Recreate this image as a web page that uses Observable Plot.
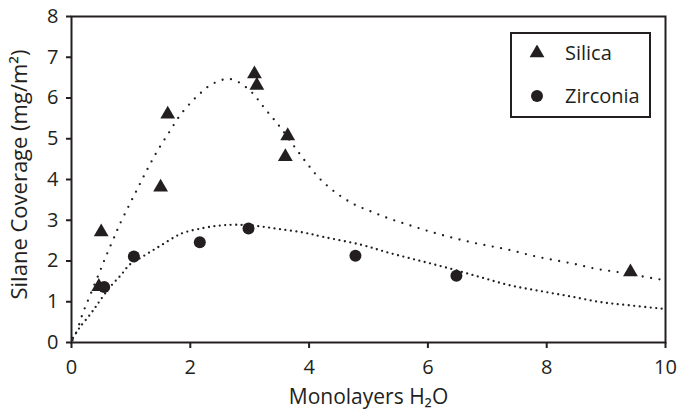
<!DOCTYPE html>
<html>
<head>
<meta charset="utf-8">
<script src="https://cdn.jsdelivr.net/npm/d3@7"></script>
<script src="https://cdn.jsdelivr.net/npm/@observablehq/plot@0.6"></script>
<style>
  html, body { margin: 0; padding: 0; background: #fff; }
  #wrap { position: relative; width: 679px; height: 410px; font-family: "Open Sans", sans-serif; color: #231f20; }
  #legend { position: absolute; left: 510px; top: 32px; width: 137px; height: 82px; border: 2px solid #231f20; background: #fff; }
  .item { position: absolute; left: 0; display: flex; align-items: center; font-size: 20px; }
  .item svg { margin-left: 17px; margin-right: 20px; }
</style>
</head>
<body>
<div id="wrap"></div>
<script>
// Tick labels
const xTicks = [0, 2, 4, 6, 8, 10];
const yTicks = [0, 1, 2, 3, 4, 5, 6, 7, 8];
const xLabel = "Monolayers H₂O";
const yLabel = "Silane Coverage (mg/m²)";
const seriesNames = ["Silica", "Zirconia"];

// Measured points (x = monolayers H2O, y = coverage)
const silicaX = [0.46, 0.50, 1.50, 1.62, 3.08, 3.12, 3.64, 3.60, 9.41];
const silicaY = [1.37, 2.71, 3.81, 5.60, 6.59, 6.31, 5.07, 4.56, 1.73];
const zirconiaX = [0.55, 1.05, 2.16, 2.98, 4.78, 6.48];
const zirconiaY = [1.36, 2.11, 2.46, 2.80, 2.13, 1.64];

// Fitted trend curves
const silicaFitX = [0.02, 0.064, 0.14, 0.19, 0.26, 0.46, 0.59, 0.73, 0.80, 0.96, 1.12, 1.28, 1.45, 1.64, 1.83, 2.05, 2.18, 2.31, 2.47, 2.64, 2.81, 2.95, 3.08, 3.19, 3.30, 3.41, 3.52, 3.73, 3.94, 4.16, 4.42, 4.72, 5.05, 5.37, 5.71, 6.04, 6.39, 6.73, 7.07, 7.41, 7.76, 8.10, 8.46, 8.79, 9.14, 9.50, 9.85, 10.0];
const silicaFitY = [0.06, 0.19, 0.49, 0.72, 0.97, 1.68, 2.15, 2.62, 2.86, 3.34, 3.80, 4.26, 4.71, 5.15, 5.58, 5.95, 6.13, 6.29, 6.41, 6.47, 6.39, 6.25, 6.07, 5.86, 5.66, 5.47, 5.27, 4.85, 4.44, 4.05, 3.71, 3.42, 3.21, 3.03, 2.87, 2.72, 2.58, 2.46, 2.36, 2.26, 2.13, 2.03, 1.93, 1.82, 1.74, 1.65, 1.56, 1.53];
const zirconiaFitX = [0.025, 0.14, 0.31, 0.40, 0.49, 0.66, 0.83, 0.98, 1.20, 1.39, 1.57, 1.75, 1.88, 2.22, 2.50, 2.78, 3.17, 3.51, 3.90, 4.24, 4.87, 5.37, 5.88, 6.38, 6.89, 7.39, 7.90, 8.40, 8.91, 9.41, 10.0];
const zirconiaFitY = [0.11, 0.37, 0.68, 0.86, 1.05, 1.38, 1.65, 1.91, 2.11, 2.28, 2.44, 2.60, 2.69, 2.81, 2.87, 2.89, 2.85, 2.78, 2.70, 2.59, 2.40, 2.19, 2.00, 1.81, 1.60, 1.40, 1.26, 1.13, 0.99, 0.91, 0.82];

const zip = (xs, ys) => xs.map((x, i) => ({x, y: ys[i]}));
const silica = zip(silicaX, silicaY);
const zirconia = zip(zirconiaX, zirconiaY);
const silicaFit = zip(silicaFitX, silicaFitY);
const zirconiaFit = zip(zirconiaFitX, zirconiaFitY);

const ink = "#231f20";

const chart = Plot.plot({
  width: 679,
  height: 410,
  marginLeft: 71,
  marginRight: 14,
  marginTop: 16,
  marginBottom: 68,
  style: {fontFamily: "Open Sans, sans-serif", fontSize: "20px", color: ink, background: "#fff"},
  x: {domain: [0, 10], label: null},
  y: {domain: [0, 8], label: null},
  marks: [
    Plot.line(silicaFit, {x: "x", y: "y", curve: "catmull-rom", stroke: ink, strokeWidth: 2.3, strokeLinecap: "round", strokeDasharray: "0 8.5"}),
    Plot.line(zirconiaFit, {x: "x", y: "y", curve: "catmull-rom", stroke: ink, strokeWidth: 2.3, strokeLinecap: "round", strokeDasharray: "0 5.5"}),
    Plot.dot(silica, {x: "x", y: "y", symbol: "triangle", r: 5.5, fill: ink, stroke: "none"}),
    Plot.dot(zirconia, {x: "x", y: "y", symbol: "circle", r: 6, fill: ink, stroke: "none"}),
    Plot.axisX({ticks: xTicks, tickSize: 6, tickPadding: 11, fontSize: 20, label: null, strokeWidth: 2}),
    Plot.axisY({ticks: yTicks, tickSize: 5, tickPadding: 8, fontSize: 20, label: null, strokeWidth: 2}),
    Plot.frame({stroke: ink, strokeWidth: 2}),
    Plot.text([xLabel], {frameAnchor: "bottom", textAnchor: "middle", lineAnchor: "bottom", dy: 61, fontSize: 21, fill: ink}),
    Plot.text([yLabel], {frameAnchor: "left", textAnchor: "middle", lineAnchor: "middle", rotate: -90, dx: -52, dy: -5, fontSize: 22, fill: ink})
  ]
});

const wrap = document.getElementById("wrap");
wrap.appendChild(chart);

// Legend
const legend = document.createElement("div");
legend.id = "legend";
const tri = `<svg width="16" height="16" viewBox="-8 -8 16 16"><path d="${d3.symbol(d3.symbolTriangle, Math.PI * 5.5 * 5.5)()}" fill="${ink}"/></svg>`;
const circ = `<svg width="16" height="16" viewBox="-8 -8 16 16"><circle r="6" fill="${ink}"/></svg>`;
legend.innerHTML =
  `<div class="item" style="top:5px">${tri}<span>${seriesNames[0]}</span></div>` +
  `<div class="item" style="top:48px">${circ}<span>${seriesNames[1]}</span></div>`;
wrap.appendChild(legend);
</script>
</body>
</html>
